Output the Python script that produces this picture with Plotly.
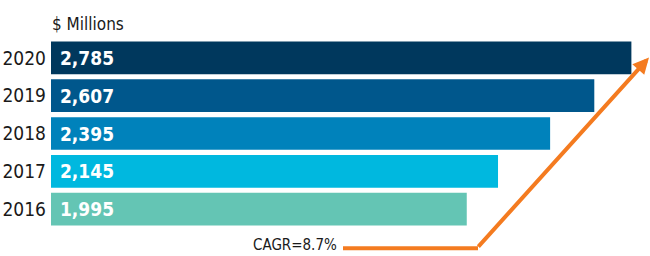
import plotly.graph_objects as go

years = ["2016", "2017", "2018", "2019", "2020"]
values = [1995, 2145, 2395, 2607, 2785]
colors = ["#64c5b4", "#00b8df", "#0082bb", "#00578c", "#00385d"]
unit_label = "$ Millions"
cagr_label = "CAGR=8.7%"
orange = "#f47b20"
font_narrow = "DejaVu Sans Condensed, DejaVu Sans"

W, H = 650, 256
ml, mr, mt, mb = 51, 0, 39.4, 27.8
pw, ph = W - ml - mr, H - mt - mb

def px(x):
    return (x - ml) / pw

def py(y):
    return (H - mb - y) / ph

fig = go.Figure(go.Bar(
    x=values, y=years, orientation="h",
    marker=dict(color=colors, line=dict(width=0)),
    texttemplate=" %{x:,}", textposition="inside", insidetextanchor="start",
    textfont=dict(family=font_narrow, size=19, color="white", weight="bold"),
    hoverinfo="skip",
))

fig.update_layout(
    width=W, height=H, margin=dict(l=ml, r=mr, t=mt, b=mb, autoexpand=False),
    paper_bgcolor="white", plot_bgcolor="white",
    bargap=0.134, showlegend=False,
    xaxis=dict(range=[0, pw / 0.2084], visible=False, fixedrange=True, automargin=False),
    yaxis=dict(categoryorder="array", categoryarray=years, showgrid=False,
               showline=False, ticks="", ticklabelstandoff=4, automargin=False,
               fixedrange=True,
               tickfont=dict(family=font_narrow, size=19, color="#1a1a1a")),
    font=dict(family=font_narrow),
)

fig.add_annotation(xref="paper", yref="paper", x=px(50), y=py(24),
                   text=unit_label, showarrow=False, xanchor="left", yanchor="middle",
                   font=dict(family=font_narrow, size=17, color="#1a1a1a"))
fig.add_annotation(xref="paper", yref="paper", x=px(339), y=py(245.5),
                   text=cagr_label, showarrow=False, xanchor="right", yanchor="middle",
                   font=dict(family=font_narrow, size=15, color="#1a1a1a"))

fig.add_shape(type="line", xref="paper", yref="paper",
              x0=px(343), y0=py(248.5), x1=px(478), y1=py(248.5),
              line=dict(color=orange, width=4))
fig.add_annotation(xref="paper", yref="paper", x=px(653), y=py(58),
                   axref="pixel", ayref="pixel", ax=-(653 - 477), ay=(248.5 - 58),
                   text="", showarrow=True, arrowhead=2, arrowsize=0.8,
                   arrowwidth=4, arrowcolor=orange)

fig.write_html("out.html", config={"displayModeBar": False},
               post_script="document.body.style.margin='0';")
